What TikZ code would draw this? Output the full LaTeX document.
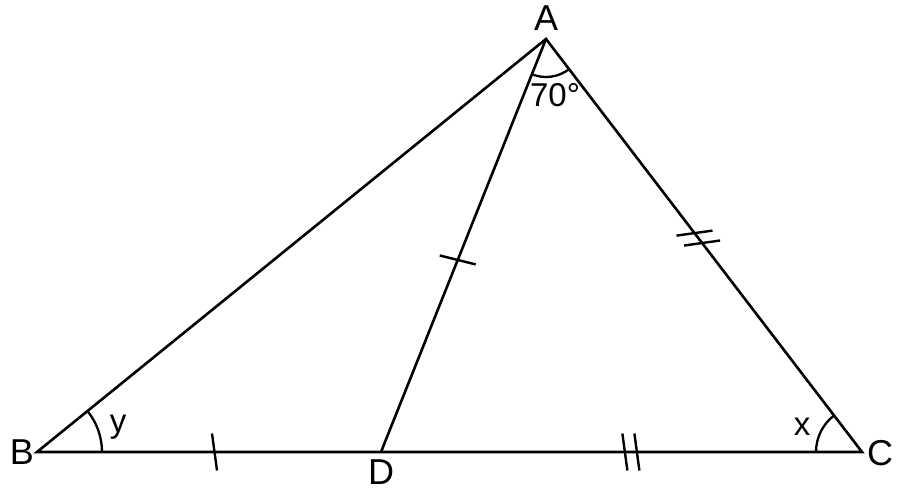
\documentclass[tikz,border=0pt]{standalone}
\usepackage{fontspec}
\setmainfont{Liberation Sans}
\usetikzlibrary{calc,angles}

\begin{document}
\begin{tikzpicture}[
    x=1pt, y=1pt,
    line width=2.6pt,
    vlabel/.style={inner sep=0pt, font=\fontsize{36}{40}\selectfont},
    alabel/.style={inner sep=0pt, font=\fontsize{33}{38}\selectfont},
    arcmark/.style={draw, line width=2.3pt},
    tickmark/.style={line width=2.4pt},
]
    \useasboundingbox (0,0) rectangle (902,498);

    % vertices
    \coordinate (A) at (546,459);
    \coordinate (B) at (37,46);
    \coordinate (C) at (862,46);
    \coordinate (D) at (381,46);

    % triangle and cevian
    \draw (A) -- (B) -- (C) -- cycle;
    \draw (A) -- (D);

    % equal sides: BD = AD, DC = AC
    \coordinate (t1) at ($(B)!0.516!(D)$);
    \draw[tickmark] ($(t1)+(2.5,-18.5)$) -- ($(t1)+(-2.5,18.5)$);
    \coordinate (t2) at ($(D)!0.465!(A)$);
    \draw[tickmark] ($(t2)+(-18,4.5)$) -- ($(t2)+(18,-4.5)$);
    \coordinate (t3) at ($(D)!0.507!(C)$);
    \coordinate (t4) at ($(D)!0.532!(C)$);
    \draw[tickmark] ($(t3)+(2.5,-18.5)$) -- ($(t3)+(-2.5,18.5)$);
    \draw[tickmark] ($(t4)+(2.5,-18.5)$) -- ($(t4)+(-2.5,18.5)$);
    \coordinate (t5) at ($(A)!0.47!(C)$);
    \coordinate (t6) at ($(A)!0.494!(C)$);
    \draw[tickmark] ($(t5)+(-18,-2.5)$) -- ($(t5)+(18,2.5)$);
    \draw[tickmark] ($(t6)+(-18,-2.5)$) -- ($(t6)+(18,2.5)$);

    % angle arcs
    \pic[arcmark, angle radius=38pt] {angle=D--A--C};
    \pic[arcmark, angle radius=65pt] {angle=D--B--A};
    \pic[arcmark, angle radius=46pt] {angle=A--C--B};

    % labels
    \node[vlabel] (lA) at (546,480) {A};
    \node[vlabel] (lB) at (22,46) {B};
    \node[vlabel] (lC) at (880,45) {C};
    \node[vlabel] (lD) at (381,26) {D};
    \node[alabel] (lAng) at (555,403) {70°};
    \node[alabel] (ly) at (118,71) {y};
    \node[alabel] (lx) at (802,71) {x};
\end{tikzpicture}
\end{document}
